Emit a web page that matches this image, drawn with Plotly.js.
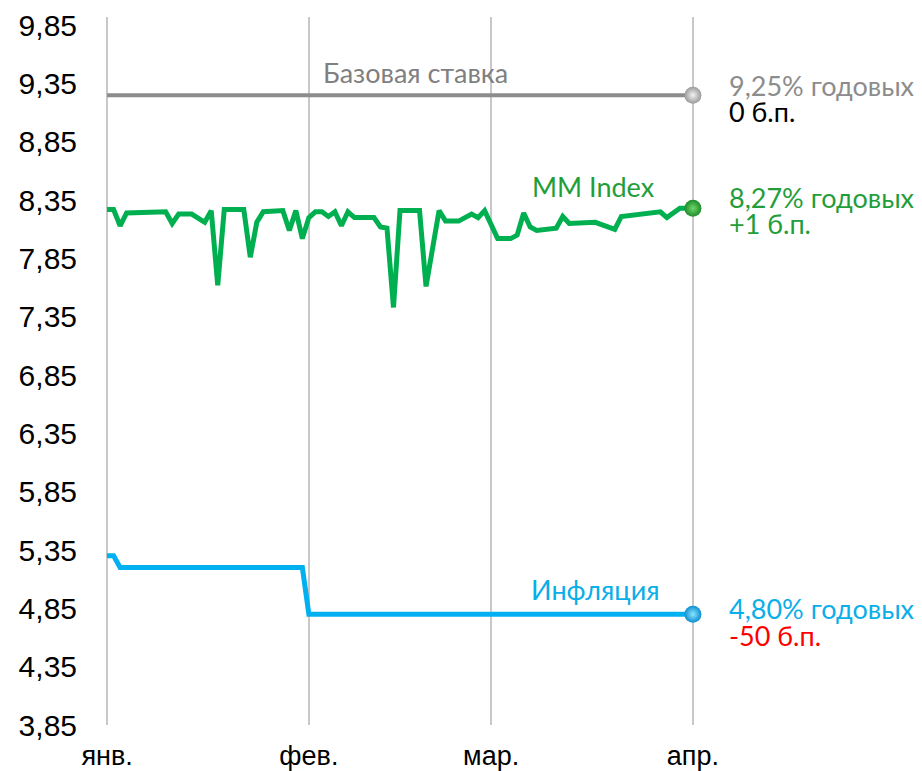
<!DOCTYPE html>
<html>
<head>
<meta charset="utf-8">
<script src="https://cdn.plot.ly/plotly-3.0.1.min.js"></script>
<style>html,body{margin:0;padding:0;background:#fff;}#chart{width:922px;height:771px;}</style>
</head>
<body>
<div id="chart"></div>
<script>
// MM Index (green)
const mmDates = ["2019-01-01","2019-01-02","2019-01-03","2019-01-04","2019-01-10","2019-01-11","2019-01-12","2019-01-14","2019-01-16","2019-01-17","2019-01-18","2019-01-19","2019-01-22","2019-01-23","2019-01-24","2019-01-25","2019-01-28","2019-01-29","2019-01-30","2019-01-31",
"2019-02-01","2019-02-02","2019-02-03","2019-02-04","2019-02-05","2019-02-06","2019-02-07","2019-02-08","2019-02-11","2019-02-12","2019-02-13","2019-02-14","2019-02-15","2019-02-18","2019-02-19","2019-02-21","2019-02-22","2019-02-24","2019-02-26","2019-02-27","2019-02-28",
"2019-03-02","2019-03-04","2019-03-05","2019-03-06","2019-03-07","2019-03-08","2019-03-11","2019-03-12","2019-03-13","2019-03-17","2019-03-20","2019-03-21","2019-03-25","2019-03-27","2019-03-28","2019-03-30","2019-04-01"];
const mmValues = [8.27,8.27,8.13,8.24,8.25,8.15,8.23,8.23,8.16,8.26,7.62,8.27,8.27,7.86,8.16,8.25,8.26,8.09,8.26,8.02,
8.20,8.25,8.25,8.21,8.25,8.13,8.25,8.20,8.20,8.12,8.11,7.43,8.26,8.26,7.61,8.26,8.17,8.17,8.23,8.20,8.26,
8.02,8.02,8.05,8.24,8.12,8.09,8.11,8.21,8.15,8.16,8.10,8.21,8.23,8.25,8.20,8.28,8.28];

// Inflation (blue)
const infDates = ["2019-01-01","2019-01-02","2019-01-03","2019-01-31","2019-02-01","2019-04-01"];
const infValues = [5.30,5.30,5.20,5.20,4.80,4.80];

// Base rate (gray)
const baseDates = ["2019-01-01","2019-04-01"];
const baseValues = [9.25,9.25];

const monthTicks = ["2019-01-01","2019-02-01","2019-03-01","2019-04-01"];
const monthLabels = ["янв.","фев.","мар.","апр."];

const GREEN = "#00b050", BLUE = "#00b0f0", GRAY = "#8c8c8c";
const GREEN_T = "#1f9e3a";

const last = a => a[a.length-1];

const traces = [
  {x: baseDates, y: baseValues, type:"scatter", mode:"lines", line:{color:GRAY, width:4}, hoverinfo:"skip"},
  {x: mmDates, y: mmValues, type:"scatter", mode:"lines", line:{color:GREEN, width:5}, hoverinfo:"skip"},
  {x: infDates, y: infValues, type:"scatter", mode:"lines", line:{color:BLUE, width:5}, hoverinfo:"skip"},
  {x: [last(baseDates)], y: [last(baseValues)], type:"scatter", mode:"markers", cliponaxis:false,
   marker:{size:17, color:"#9a9a9a", gradient:{type:"radial", color:"#f2f2f2"}, line:{width:0}}},
  {x: [last(mmDates)], y: [last(mmValues)], type:"scatter", mode:"markers", cliponaxis:false,
   marker:{size:17, color:"#1e8c2a", gradient:{type:"radial", color:"#6fd66a"}, line:{width:0}}},
  {x: [last(infDates)], y: [last(infValues)], type:"scatter", mode:"markers", cliponaxis:false,
   marker:{size:17, color:"#0a8fd0", gradient:{type:"radial", color:"#8fe3ff"}, line:{width:0}}}
];

const AF = "Lato, 'Open Sans', sans-serif";
function ann(text, x, y, color, size, xanchor){
  return {text:text, xref:"paper", yref:"paper", x:x, y:y, xanchor:xanchor||"left", yanchor:"middle",
          showarrow:false, font:{family:AF, size:size, color:color}};
}

const layout = {
  width:922, height:771,
  margin:{l:106, r:228, t:17, b:46, pad:0},
  paper_bgcolor:"#fff", plot_bgcolor:"#fff",
  showlegend:false,
  separators:", ",
  xaxis:{type:"date", range:["2018-12-31T20:00","2019-04-01T04:00"], tickvals:monthTicks, ticktext:monthLabels,
         showgrid:true, gridcolor:"#c8c8c8", gridwidth:2, zeroline:false, showline:false,
         ticks:"", ticklabelstandoff:12,
         tickfont:{family:"'Liberation Sans Narrow', 'Liberation Sans', Arial, sans-serif", size:27, color:"#000"}},
  yaxis:{range:[3.85, 9.92], tick0:3.85, dtick:0.5, tickformat:".2f",
         showgrid:false, zeroline:false, showline:false, ticks:"", ticklabelstandoff:28,
         tickfont:{family:"'Liberation Sans', Arial, sans-serif", size:30, color:"#000"}},
  annotations:[
    ann("Базовая ставка", 0.526, 0.922, "#808080", 27, "center"),
    ann("MM Index", 0.829, 0.760, GREEN_T, 27, "center"),
    ann("Инфляция", 0.833, 0.191, "#0aaee8", 27, "center"),
    ann("9,25% годовых", 1.056, 0.903, "#8c8c8c", 27),
    ann("0 б.п.", 1.056, 0.866, "#000", 27),
    ann("8,27% годовых", 1.056, 0.745, GREEN_T, 27),
    ann("+1 б.п.", 1.056, 0.708, GREEN_T, 27),
    ann("4,80% годовых", 1.056, 0.164, "#0aaee8", 27),
    ann("-50 б.п.", 1.056, 0.127, "#ff0000", 27)
  ]
};

Plotly.newPlot("chart", traces, layout, {staticPlot:true, displayModeBar:false});
</script>
</body>
</html>
